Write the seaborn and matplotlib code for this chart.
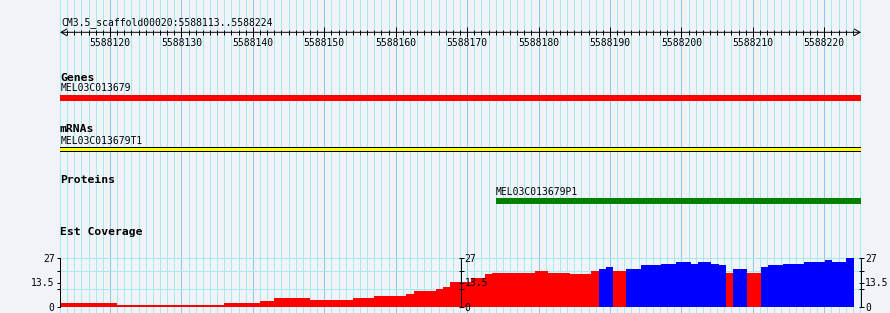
import numpy as np
import pandas as pd
import matplotlib
matplotlib.use("Agg")
import matplotlib.pyplot as plt
import seaborn as sns

# ---------------- data ----------------
view_start = 5588113
view_end = 5588224
region_label = "CM3.5_scaffold00020:5588113..5588224"
ruler_major = list(range(5588120, 5588221, 10))
ruler_minor = list(range(5588114, 5588225))
grid_positions = list(range(5588113, 5588226))

track_titles = ["Genes", "mRNAs", "Proteins", "Est Coverage"]
gene_name = "MEL03C013679"
gene_span = [5588113, 5588225.2]
mrna_name = "MEL03C013679T1"
mrna_span = [5588113, 5588225.2]
protein_name = "MEL03C013679P1"
protein_span = [5588174, 5588225.2]

cov_edges = [5588113.0, 5588121.0, 5588136.0, 5588141.0, 5588143.0, 5588148.0,
             5588154.0, 5588157.0, 5588161.5, 5588162.6, 5588165.6, 5588166.6,
             5588167.6, 5588170.5, 5588172.5, 5588173.5, 5588179.5, 5588181.3,
             5588184.4, 5588187.3, 5588188.5, 5588189.4, 5588190.4, 5588192.3,
             5588194.3, 5588197.2, 5588199.2, 5588201.3, 5588202.3, 5588204.2,
             5588205.3, 5588206.2, 5588207.2, 5588209.2, 5588211.1, 5588212.1,
             5588214.2, 5588217.2, 5588220.1, 5588221.1, 5588223.0, 5588224.1]
cov_values = [2, 1, 2, 3, 5, 4, 5, 6, 7, 9, 10, 11, 14, 16, 18, 19, 20, 19, 18, 20,
              21, 22, 20, 21, 23, 24, 25, 24, 25, 24, 23, 19, 21, 19, 22, 23, 24,
              25, 26, 25, 27]
cov_kinds = ["r"] * 20 + ["b", "b", "r"] + ["b"] * 8 + ["r", "b", "r"] + ["b"] * 7
cov_max = 27
cov_ticks = [0, 13.5, 27]
cov_tick_labels = ["0", "13.5", "27"]
cov_minor_ticks = [10, 20]
cov_grid = [10, 20, 27]

# ---------------- style ----------------
W, H = 890, 313
BG = "#f0f4f9"
MINOR_C = "#a6eaee"
MAJOR_C = "#8cc8ec"
LW = 0.72
plt.rcParams["font.family"] = ["DejaVu Sans Mono"]
plt.rcParams["font.size"] = 7
plt.rcParams["axes.unicode_minus"] = False

def rect(x0, r0, x1, r1):
    return [x0 / W, 1 - r1 / H, (x1 - x0) / W, (r1 - r0) / H]

PX_L, PX_R = 60, 861
px_per_bp = 800 / 112
xlim = (view_start, view_start + (PX_R - PX_L) / px_per_bp)

fig = plt.figure(figsize=(W / 100, H / 100), dpi=100, facecolor=BG)

# ---------- main track panel (rows as pixel units) ----------
ax = fig.add_axes(rect(PX_L, 0, PX_R, H))
ax.set_facecolor(BG)
ax.set_axisbelow(True)
ax.set_xlim(*xlim)
ax.set_ylim(H, 0)
ax.set_xticks(ruler_major)
ax.set_xticks(grid_positions, minor=True)
ax.grid(which="minor", axis="x", color=MINOR_C, lw=LW)
ax.grid(which="major", axis="x", color=MAJOR_C, lw=LW)
ax.set_yticks([])
ax.tick_params(which="both", length=0, labelbottom=False)
for s in ax.spines.values():
    s.set_visible(False)

dx = 0.15
ax.text(view_start + dx, 25, region_label, fontsize=7, va="baseline")
ax.text(view_start, 80.7, track_titles[0], fontsize=8.2, fontweight="bold", va="baseline")
ax.text(view_start + dx, 90.7, gene_name, fontsize=7, va="baseline")
ax.broken_barh([(gene_span[0] - 0.2, gene_span[1] - gene_span[0] + 0.2)], (95, 6),
               facecolor="#ff0000", edgecolor="none", zorder=2)
ax.text(view_start, 132.3, track_titles[1], fontsize=8.2, fontweight="bold", va="baseline")
ax.text(view_start + dx, 144, mrna_name, fontsize=7, va="baseline")
ax.broken_barh([(mrna_span[0] - 0.2, mrna_span[1] - mrna_span[0] + 0.2)], (146.7, 5),
               facecolor="black", edgecolor="none", zorder=2)
ax.broken_barh([(mrna_span[0] - 0.2, mrna_span[1] - mrna_span[0] + 0.2)], (147.7, 3),
               facecolor="#ffff00", edgecolor="none", zorder=2.1)
ax.text(view_start, 183.3, track_titles[2], fontsize=8.2, fontweight="bold", va="baseline")
ax.text(protein_span[0], 195, protein_name, fontsize=7, va="baseline")
ax.broken_barh([(protein_span[0], protein_span[1] - protein_span[0])], (198.2, 5.8),
               facecolor="#008000", edgecolor="none", zorder=2)
ax.text(view_start, 235, track_titles[3], fontsize=8.2, fontweight="bold", va="baseline")

# ---------- ruler ----------
axr = fig.add_axes(rect(PX_L, 31.3, PX_R, 32.3))
axr.set_facecolor("none")
axr.set_xlim(*xlim)
axr.set_yticks([])
for s in axr.spines.values():
    s.set_visible(False)
axr.set_xticks(ruler_major)
axr.set_xticklabels([str(v) for v in ruler_major])
axr.set_xticks(ruler_minor, minor=True)
axr.tick_params(axis="x", which="major", direction="inout", length=6.5, width=LW,
                pad=1.2, labelsize=7)
axr.tick_params(axis="x", which="minor", direction="inout", length=3.6, width=LW)
axr.annotate("", xy=(1.0, 0), xytext=(0, 0), xycoords="axes fraction",
             textcoords="axes fraction",
             arrowprops=dict(arrowstyle="<->,head_length=0.42,head_width=0.24",
                             lw=LW, color="black", shrinkA=0, shrinkB=0,
                             mutation_scale=10))

# ---------- coverage ----------
axc = fig.add_axes(rect(PX_L, 258.3, PX_R, 306.7))
axc.set_facecolor("none")
edges = np.array(cov_edges)
df = pd.DataFrame({"pos": (edges[:-1] + edges[1:]) / 2,
                   "depth": cov_values, "kind": cov_kinds})
sns.histplot(data=df, x="pos", weights="depth", hue="kind", bins=list(cov_edges),
             palette={"r": "#ff0000", "b": "#0000ff"},
             hue_order=["r", "b"], alpha=1, linewidth=0, antialiased=False,
             legend=False, ax=axc)
axc.set_xlim(*xlim)
axc.set_ylim(0, cov_max)
axc.set_xlabel("")
axc.set_ylabel("")
axc.set_xticks([])
for g in cov_grid:
    axc.axhline(g, color=MINOR_C, lw=LW, zorder=0.5)
for k, s in axc.spines.items():
    s.set_visible(k == "left")
axc.spines["left"].set_linewidth(LW)
axc.set_yticks(cov_ticks)
axc.set_yticklabels(cov_tick_labels)
axc.set_yticks(cov_minor_ticks, minor=True)
axc.tick_params(axis="y", which="both", direction="out", length=2.4, width=LW,
                pad=1.5, labelsize=7)

for loc in (0.5, "right"):
    sec = axc.secondary_yaxis(loc)
    sec.set_zorder(5)
    sec.set_yticks(cov_ticks)
    sec.set_yticklabels(cov_tick_labels)
    sec.set_yticks(cov_minor_ticks, minor=True)
    sec.tick_params(axis="y", which="both", direction="inout", length=3.6,
                    width=LW, pad=1.0, labelsize=7)
    for s in sec.spines.values():
        s.set_linewidth(LW)

fig.savefig("out.png", dpi=100, facecolor=BG)
